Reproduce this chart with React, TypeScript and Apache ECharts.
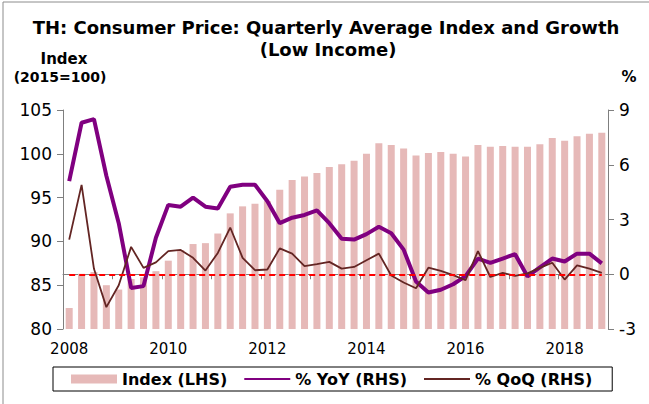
import React, { useEffect, useRef } from "react";
import * as echarts from "echarts";

const categories: string[] = [
  "2008Q1", "2008Q2", "2008Q3", "2008Q4",
  "2009Q1", "2009Q2", "2009Q3", "2009Q4",
  "2010Q1", "2010Q2", "2010Q3", "2010Q4",
  "2011Q1", "2011Q2", "2011Q3", "2011Q4",
  "2012Q1", "2012Q2", "2012Q3", "2012Q4",
  "2013Q1", "2013Q2", "2013Q3", "2013Q4",
  "2014Q1", "2014Q2", "2014Q3", "2014Q4",
  "2015Q1", "2015Q2", "2015Q3", "2015Q4",
  "2016Q1", "2016Q2", "2016Q3", "2016Q4",
  "2017Q1", "2017Q2", "2017Q3", "2017Q4",
  "2018Q1", "2018Q2", "2018Q3", "2018Q4",
];

const indexValues: number[] = [
  82.4, 86.3, 86.5, 85.0, 84.5, 85.7, 85.9, 86.6,
  87.8, 89.0, 89.7, 89.8, 90.9, 93.2, 94.0, 94.3,
  94.6, 95.9, 97.0, 97.4, 97.8, 98.5, 98.8, 99.2,
  100.0, 101.2, 101.0, 100.6, 99.8, 100.1, 100.2, 100.0,
  99.7, 101.0, 100.8, 100.9, 100.8, 100.8, 101.1, 101.8,
  101.5, 102.0, 102.3, 102.4,
];

const yoyValues: number[] = [
  5.1, 8.3, 8.5, 5.4, 2.8, -0.75, -0.65, 2.0,
  3.8, 3.7, 4.2, 3.7, 3.6, 4.8, 4.9, 4.9,
  4.0, 2.8, 3.1, 3.25, 3.5, 2.8, 1.95, 1.9,
  2.2, 2.6, 2.25, 1.35, -0.4, -1.0, -0.85, -0.55,
  -0.1, 0.86, 0.62, 0.86, 1.1, -0.12, 0.38, 0.86,
  0.7, 1.13, 1.13, 0.6,
];

const qoqValues: number[] = [
  1.9, 4.9, 0.3, -1.8, -0.6, 1.5, 0.35, 0.65,
  1.27, 1.33, 0.9, 0.2, 1.17, 2.56, 0.9, 0.22,
  0.26, 1.42, 1.13, 0.44, 0.55, 0.68, 0.31, 0.4,
  0.77, 1.13, -0.07, -0.45, -0.77, 0.36, 0.18, -0.05,
  -0.33, 1.27, -0.15, 0.07, -0.09, 0.05, 0.35, 0.63,
  -0.29, 0.49, 0.31, 0.07,
];

const leftTicks = { min: 80, max: 105, interval: 5 };
const rightTicks = { min: -3, max: 9, interval: 3 };
const zeroLevel = 0;

const titleLines: string[] = [
  "TH: Consumer Price: Quarterly Average Index and Growth",
  "(Low Income)",
];
const leftUnit: string[] = ["Index", "(2015=100)"];
const rightUnit = "%";
const seriesNames = ["Index (LHS)", "% YoY (RHS)", "% QoQ (RHS)"];

const FONT = "DejaVu Sans";
const AXIS_GREY = "#7f7f7f";
const BAR_COLOR = "#E6B9B8";
const YOY_COLOR = "#800080";
const QOQ_COLOR = "#632523";

export default function App() {
  const ref = useRef<HTMLDivElement>(null);

  useEffect(() => {
    if (!ref.current) return;
    const chart = echarts.init(ref.current, undefined, { renderer: "svg" });
    const option: any = {
      animation: false,
      backgroundColor: "#ffffff",
      textStyle: { fontFamily: FONT },
      grid: { left: 63, right: 41, top: 110, bottom: 75, containLabel: false },
      graphic: [
        {
          type: "rect",
          silent: true,
          shape: { x: 3, y: 2, width: 700, height: 500 },
          style: { fill: "none", stroke: "#8c8c8c", lineWidth: 1 },
        },
        {
          type: "text",
          x: 326,
          y: 27,
          style: {
            text: titleLines[0],
            font: `bold 18px "${FONT}"`,
            fill: "#000",
            align: "center",
            verticalAlign: "middle",
          },
        },
        {
          type: "text",
          x: 328,
          y: 49,
          style: {
            text: titleLines[1],
            font: `bold 18px "${FONT}"`,
            fill: "#000",
            align: "center",
            verticalAlign: "middle",
          },
        },
        {
          type: "text",
          x: 64,
          y: 59,
          style: {
            text: leftUnit[0],
            font: `bold 15px "${FONT}"`,
            fill: "#000",
            align: "center",
            verticalAlign: "middle",
          },
        },
        {
          type: "text",
          x: 60,
          y: 77,
          style: {
            text: leftUnit[1],
            font: `bold 14px "${FONT}"`,
            fill: "#000",
            align: "center",
            verticalAlign: "middle",
          },
        },
        {
          type: "text",
          x: 629,
          y: 77,
          style: {
            text: rightUnit,
            font: `bold 15px "${FONT}"`,
            fill: "#000",
            align: "center",
            verticalAlign: "middle",
          },
        },
      ],
      legend: {
        data: [
          { name: seriesNames[0], icon: "rect" },
          { name: seriesNames[1], itemStyle: { opacity: 0 } },
          { name: seriesNames[2], itemStyle: { opacity: 0 } },
        ],
        left: 53,
        top: 367,
        orient: "horizontal",
        itemWidth: 46,
        itemHeight: 9,
        itemGap: 16,
        padding: [4, 20, 4, 18],
        borderColor: "#000",
        borderWidth: 1,
        backgroundColor: "#fff",
        textStyle: { fontFamily: FONT, fontWeight: "bold", fontSize: 16, color: "#000" },
      },
      xAxis: {
        type: "category",
        data: categories,
        boundaryGap: true,
        axisLine: { show: true, lineStyle: { color: AXIS_GREY, width: 1 } },
        axisTick: {
          show: true,
          interval: 3,
          length: 5,
          alignWithLabel: false,
          lineStyle: { color: AXIS_GREY },
        },
        axisLabel: {
          interval: 7,
          formatter: (v: string) => v.slice(0, 4),
          color: "#000",
          fontSize: 15,
          fontFamily: FONT,
          margin: 12,
        },
        splitLine: { show: false },
      },
      yAxis: [
        {
          type: "value",
          position: "left",
          min: leftTicks.min,
          max: leftTicks.max,
          interval: leftTicks.interval,
          axisLine: { show: true, lineStyle: { color: AXIS_GREY, width: 1 } },
          axisTick: { show: true, length: 6, lineStyle: { color: AXIS_GREY } },
          axisLabel: { color: "#000", fontSize: 17, fontFamily: FONT, margin: 11 },
          splitLine: { show: false },
        },
        {
          type: "value",
          position: "right",
          min: rightTicks.min,
          max: rightTicks.max,
          interval: rightTicks.interval,
          axisLine: { show: true, lineStyle: { color: AXIS_GREY, width: 1 } },
          axisTick: { show: true, length: 6, lineStyle: { color: AXIS_GREY } },
          axisLabel: { color: "#000", fontSize: 17, fontFamily: FONT, margin: 11 },
          splitLine: { show: false },
        },
      ],
      series: [
        {
          name: seriesNames[0],
          type: "bar",
          yAxisIndex: 0,
          data: indexValues,
          barWidth: 7,
          itemStyle: { color: BAR_COLOR },
        },
        {
          name: "zero",
          type: "line",
          yAxisIndex: 1,
          data: [],
          symbol: "none",
          markLine: {
            silent: true,
            symbol: ["none", "none"],
            label: { show: false },
            lineStyle: { color: "#FF0000", type: [6, 4], width: 2 },
            data: [
              [
                { coord: [categories[0], zeroLevel] },
                { coord: [categories[categories.length - 1], zeroLevel] },
              ],
            ],
          },
        },
        {
          name: seriesNames[1],
          type: "line",
          yAxisIndex: 1,
          data: yoyValues,
          symbol: "none",
          lineStyle: { color: YOY_COLOR, width: 4 },
          itemStyle: { color: YOY_COLOR },
        },
        {
          name: seriesNames[2],
          type: "line",
          yAxisIndex: 1,
          data: qoqValues,
          symbol: "none",
          lineStyle: { color: QOQ_COLOR, width: 1.8 },
          itemStyle: { color: QOQ_COLOR },
        },
      ],
    };
    chart.setOption(option);
    return () => chart.dispose();
  }, []);

  return (
    <div
      ref={ref}
      style={{ position: "fixed", left: 0, top: 0, width: 649, height: 404, background: "#fff" }}
    />
  );
}
